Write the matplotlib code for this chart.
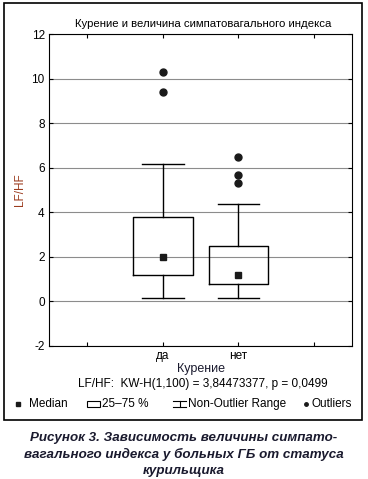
import matplotlib
matplotlib.use('Agg')
import matplotlib.pyplot as plt
from matplotlib.patches import Rectangle
from matplotlib.lines import Line2D

plt.rcParams['font.family'] = ['Liberation Sans Narrow', 'Liberation Sans', 'DejaVu Sans']

# data
groups = ['да', 'нет']
medians = [2.0, 1.2]
q1 = [1.17, 0.76]
q3 = [3.78, 2.47]
whis_lo = [0.17, 0.17]
whis_hi = [6.15, 4.35]
outliers = [[10.3, 9.4], [6.5, 5.65, 5.3]]

positions = [1, 2]
stats = []
for i in range(len(groups)):
    stats.append({'med': medians[i], 'q1': q1[i], 'q3': q3[i],
                  'whislo': whis_lo[i], 'whishi': whis_hi[i],
                  'fliers': outliers[i], 'label': groups[i]})

fig = plt.figure(figsize=(3.68, 4.79), dpi=100)
ax = fig.add_axes([0.133, 0.278, 0.824, 0.651])

ax.bxp(stats, positions=positions, widths=0.79, capwidths=0.55,
       boxprops=dict(color='black', lw=1),
       whiskerprops=dict(color='black', lw=1),
       capprops=dict(color='black', lw=1),
       medianprops=dict(linestyle='none'),
       flierprops=dict(marker='o', markerfacecolor='#1a1a1a', markeredgecolor='#1a1a1a', markersize=5))
ax.plot(positions, medians, 's', color='#1a1a1a', markersize=5, zorder=3)

ax.set_xlim(-0.5, 3.5)
ax.set_ylim(-2, 12)
ax.set_xticks([0, 1, 2, 3])
ax.set_xticklabels(['', 'да', 'нет', ''], fontsize=8.5)
ax.set_yticks(range(-2, 13, 2))
ax.set_yticklabels([str(v) for v in range(-2, 13, 2)], fontsize=8.5)
ax.tick_params(direction='in', top=True, right=True, length=3, width=0.8, pad=3)
ax.grid(axis='y', color='#8c8c8c', lw=0.8)
ax.set_axisbelow(True)
for s in ax.spines.values():
    s.set_linewidth(0.8)

ax.set_title('Курение и величина симпатовагального индекса', fontsize=8.2, pad=5, x=0.51)
ax.set_ylabel('LF/HF', fontsize=8.5, color='#9b3b1e', labelpad=4)
ax.set_xlabel('Курение', fontsize=9, color='#1a1a2e', labelpad=1)

fig.text(0.55, 1 - 384 / 479, 'LF/HF:  KW-H(1,100) = 3,84473377, p = 0,0499',
         ha='center', va='center', fontsize=8.5)

# legend row
ly = 1 - 404 / 479
W, H = 368, 479
fig.add_artist(Line2D([18 / W], [ly], marker='s', color='#1a1a1a', markersize=3, transform=fig.transFigure))
fig.text(29 / W, ly, 'Median', va='center', fontsize=8.5)
fig.add_artist(Rectangle((87 / W, ly - 3 / H), 13 / W, 6 / H, fill=False, lw=0.8, transform=fig.transFigure))
fig.text(102 / W, ly, '25–75 %', va='center', fontsize=8.5)
fig.add_artist(Line2D([173 / W, 186 / W], [ly + 3 / H] * 2, color='black', lw=0.8, transform=fig.transFigure))
fig.add_artist(Line2D([173 / W, 186 / W], [ly - 3 / H] * 2, color='black', lw=0.8, transform=fig.transFigure))
fig.add_artist(Line2D([179.5 / W, 179.5 / W], [ly - 3 / H, ly + 3 / H], color='black', lw=0.8, transform=fig.transFigure))
fig.text(188 / W, ly, 'Non-Outlier Range', va='center', fontsize=8.5)
fig.add_artist(Line2D([306 / W], [ly], marker='o', color='#1a1a1a', markersize=2.5, transform=fig.transFigure))
fig.text(312 / W, ly, 'Outliers', va='center', fontsize=8.5)

# outer frame
fig.add_artist(Rectangle((4 / W, 1 - 420 / H), 358 / W, 417 / H, fill=False, lw=1.2,
                         edgecolor='black', transform=fig.transFigure))

caption_lines = ['Рисунок 3. Зависимость величины симпато-',
                 'вагального индекса у больных ГБ от статуса',
                 'курильщика']
for k, line in enumerate(caption_lines):
    fig.text(0.5, 1 - (438 + 16.5 * k) / H, line, ha='center', va='center', fontsize=9.6,
             fontweight='bold', style='italic', color='#1a1a2e',
             family=['Liberation Sans', 'DejaVu Sans'])

fig.savefig('out.png', dpi=100)
